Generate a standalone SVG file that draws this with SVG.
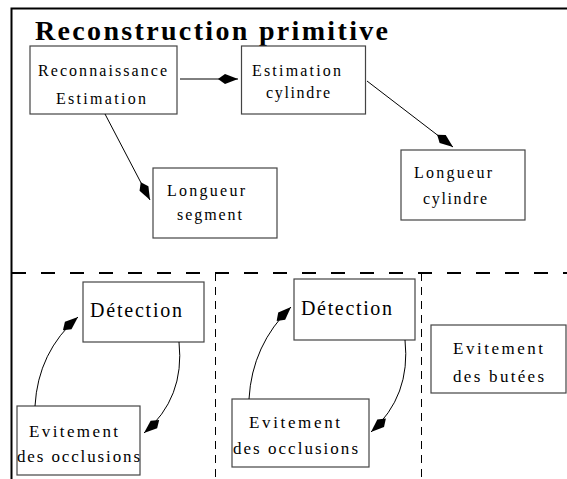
<svg xmlns="http://www.w3.org/2000/svg" width="567" height="479" viewBox="0 0 567 479">
<defs>
<marker id="kite" markerUnits="userSpaceOnUse" markerWidth="24" markerHeight="14" refX="0" refY="0" viewBox="-20 -7 22 14" orient="auto" overflow="visible">
<path d="M0,0 L-13,-5 L-20,0 L-13,5 Z" fill="#000"/>
</marker>
<style>
.box{fill:#fff;stroke:#444;stroke-width:1.2}
text{font-family:'Liberation Serif','Times New Roman','DejaVu Serif',serif;fill:#000}
.s{font-size:16px}
.m{font-size:17px}
.l{font-size:20px}
.conn{fill:none;stroke:#000;stroke-width:1;marker-end:url(#kite)}
</style>
</defs>
<rect width="567" height="479" fill="#fff"/>
<g id="frame" fill="none" stroke="#000">
<path d="M11.5,479 L11.5,8.5 L567,8.5" stroke-width="2"/>
<path d="M12,273 L567,273" stroke-width="2.2" stroke-dasharray="14,15"/>
<path d="M215.5,273 L215.5,479" stroke-width="1" stroke-dasharray="8,6"/>
<path d="M421.5,273 L421.5,479" stroke-width="1" stroke-dasharray="8,6"/>
</g>
<text x="35" y="40" font-size="28" font-weight="bold" textLength="353" lengthAdjust="spacing">Reconstruction primitive</text>
<g id="n-reco">
<rect class="box" x="30" y="46" width="147" height="68"/>
<text class="s" x="38" y="76" textLength="129" lengthAdjust="spacing">Reconnaissance</text>
<text class="s" x="56" y="104" textLength="90" lengthAdjust="spacing">Estimation</text>
</g>
<g id="n-estcyl">
<rect class="box" x="241.5" y="46" width="124" height="68"/>
<text class="s" x="252" y="76" textLength="89" lengthAdjust="spacing">Estimation</text>
<text class="s" x="266" y="98" textLength="64" lengthAdjust="spacing">cylindre</text>
</g>
<g id="n-longcyl">
<rect class="box" x="401" y="150" width="124" height="70"/>
<text class="s" x="414" y="178" textLength="78" lengthAdjust="spacing">Longueur</text>
<text class="s" x="423" y="204" textLength="64" lengthAdjust="spacing">cylindre</text>
</g>
<g id="n-longseg">
<rect class="box" x="153" y="168" width="124" height="70"/>
<text class="s" x="167" y="196" textLength="78" lengthAdjust="spacing">Longueur</text>
<text class="s" x="177" y="220" textLength="65" lengthAdjust="spacing">segment</text>
</g>
<g id="n-det1">
<rect class="box" x="83" y="282" width="121" height="60"/>
<text class="l" x="90" y="317" textLength="92" lengthAdjust="spacing">Détection</text>
</g>
<g id="n-evo1">
<rect class="box" x="17" y="406" width="123" height="69"/>
<text class="m" x="29" y="437" textLength="89" lengthAdjust="spacing">Evitement</text>
<text class="m" x="17" y="462" textLength="123" lengthAdjust="spacing">des occlusions</text>
</g>
<g id="n-det2">
<rect class="box" x="294" y="279" width="121" height="61"/>
<text class="l" x="301" y="315" textLength="91" lengthAdjust="spacing">Détection</text>
</g>
<g id="n-evo2">
<rect class="box" x="232" y="399" width="137" height="68"/>
<text class="m" x="249" y="428" textLength="91" lengthAdjust="spacing">Evitement</text>
<text class="m" x="233" y="454" textLength="125" lengthAdjust="spacing">des occlusions</text>
</g>
<g id="n-butees">
<rect class="box" x="431" y="325" width="135" height="68"/>
<text class="m" x="453" y="354" textLength="90" lengthAdjust="spacing">Evitement</text>
<text class="m" x="453" y="382" textLength="91" lengthAdjust="spacing">des butées</text>
</g>
<g id="connectors">
<path class="conn" d="M180,79 L238,79"/>
<path class="conn" d="M105,114 L150,200"/>
<path class="conn" d="M367,81 L453,147"/>
<path class="conn" d="M35,406 Q38,352 78,317"/>
<path class="conn" d="M179,342 Q185,398 144,433"/>
<path class="conn" d="M249,399 Q252,345 291,307"/>
<path class="conn" d="M405,340 Q411,396 371,432"/>
</g>
</svg>
